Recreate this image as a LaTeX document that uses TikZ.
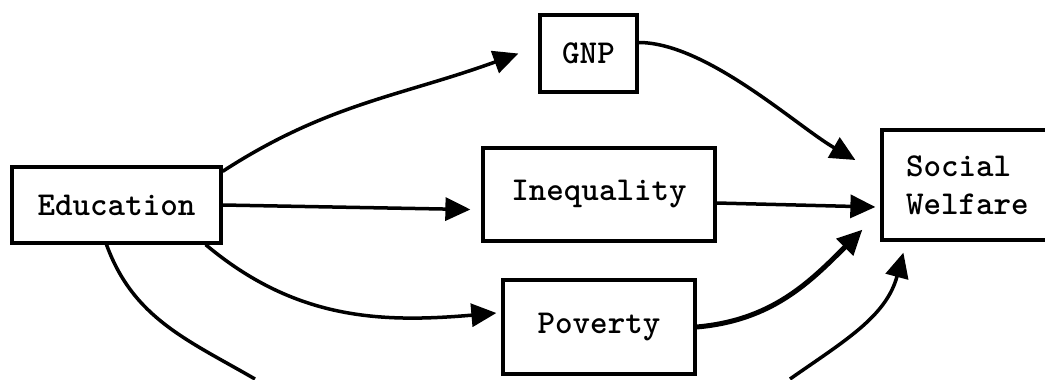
\documentclass[tikz,border=0pt]{standalone}
\usetikzlibrary{arrows.meta}

\newcommand{\boxThick}{0.65mm}
\newcommand{\linThick}{0.7mm}
\newcommand{\povThick}{1.0mm}
\newcommand{\tipLen}{5mm}
\newcommand{\tipWid}{4.6mm}

\tikzset{
  varbox/.style={draw, line width=\boxThick, inner sep=0pt,
                 font=\ttfamily\bfseries\fontsize{19}{21.6}\selectfont},
  causal/.style={line width=\linThick, -{Triangle[length=\tipLen, width=\tipWid]}},
  cutline/.style={line width=\linThick}
}

\begin{document}
\begin{tikzpicture}

  \useasboundingbox (0,0) rectangle (20.9,7.58);

  % Boxes:
  \node[varbox, minimum width=4.18cm, minimum height=1.52cm] (edu)  at ( 2.33, 3.48) {Education};
  \node[varbox, minimum width=1.94cm, minimum height=1.54cm] (gnp)  at (11.77, 6.51) {GNP};
  \node[varbox, minimum width=4.64cm, minimum height=1.86cm] (ineq) at (11.98, 3.69) {Inequality};
  \node[varbox, minimum width=3.84cm, minimum height=1.88cm] (pov)  at (11.98, 1.04) {Poverty};
  \node[varbox, minimum width=3.46cm, minimum height=2.20cm,
        text width=2.5cm, align=left]                         (sw)   at (19.37, 3.88) {Social\\Welfare};

  % Cut ends (the curves run off the bottom):
  \coordinate (cutL) at ( 5.1, 0);
  \coordinate (cutR) at (15.8, 0);

  % Arrows from Education:
  \draw[causal] ([yshift=-0.12cm]edu.north east) to[out=33, in=200] ([xshift=-0.4cm]gnp.west);
  \draw[causal] (edu.east) -- ([xshift=-0.22cm, yshift=-0.3cm]ineq.west);
  \draw[causal] ([xshift=-0.34cm]edu.south east) to[out=-40, in=185] ([xshift=-0.1cm, yshift=0.28cm]pov.west);
  \draw[cutline] ([xshift=-0.2cm]edu.south) to[out=-70, in=150] (cutL);

  % Arrows into Social Welfare:
  \draw[causal] ([yshift=0.22cm]gnp.east) to[out=0, in=150, looseness=0.7] ([xshift=-0.5cm, yshift=0.5cm]sw.west);
  \draw[causal] ([yshift=-0.17cm]ineq.east) -- ([xshift=-0.1cm, yshift=-0.44cm]sw.west);
  \draw[causal, line width=\povThick] (pov.east) to[out=5, in=225] ([xshift=-0.36cm, yshift=0.24cm]sw.south west);
  \draw[causal] (cutR) to[out=35, in=255] ([xshift=0.46cm, yshift=-0.22cm]sw.south west);

\end{tikzpicture}
\end{document}
